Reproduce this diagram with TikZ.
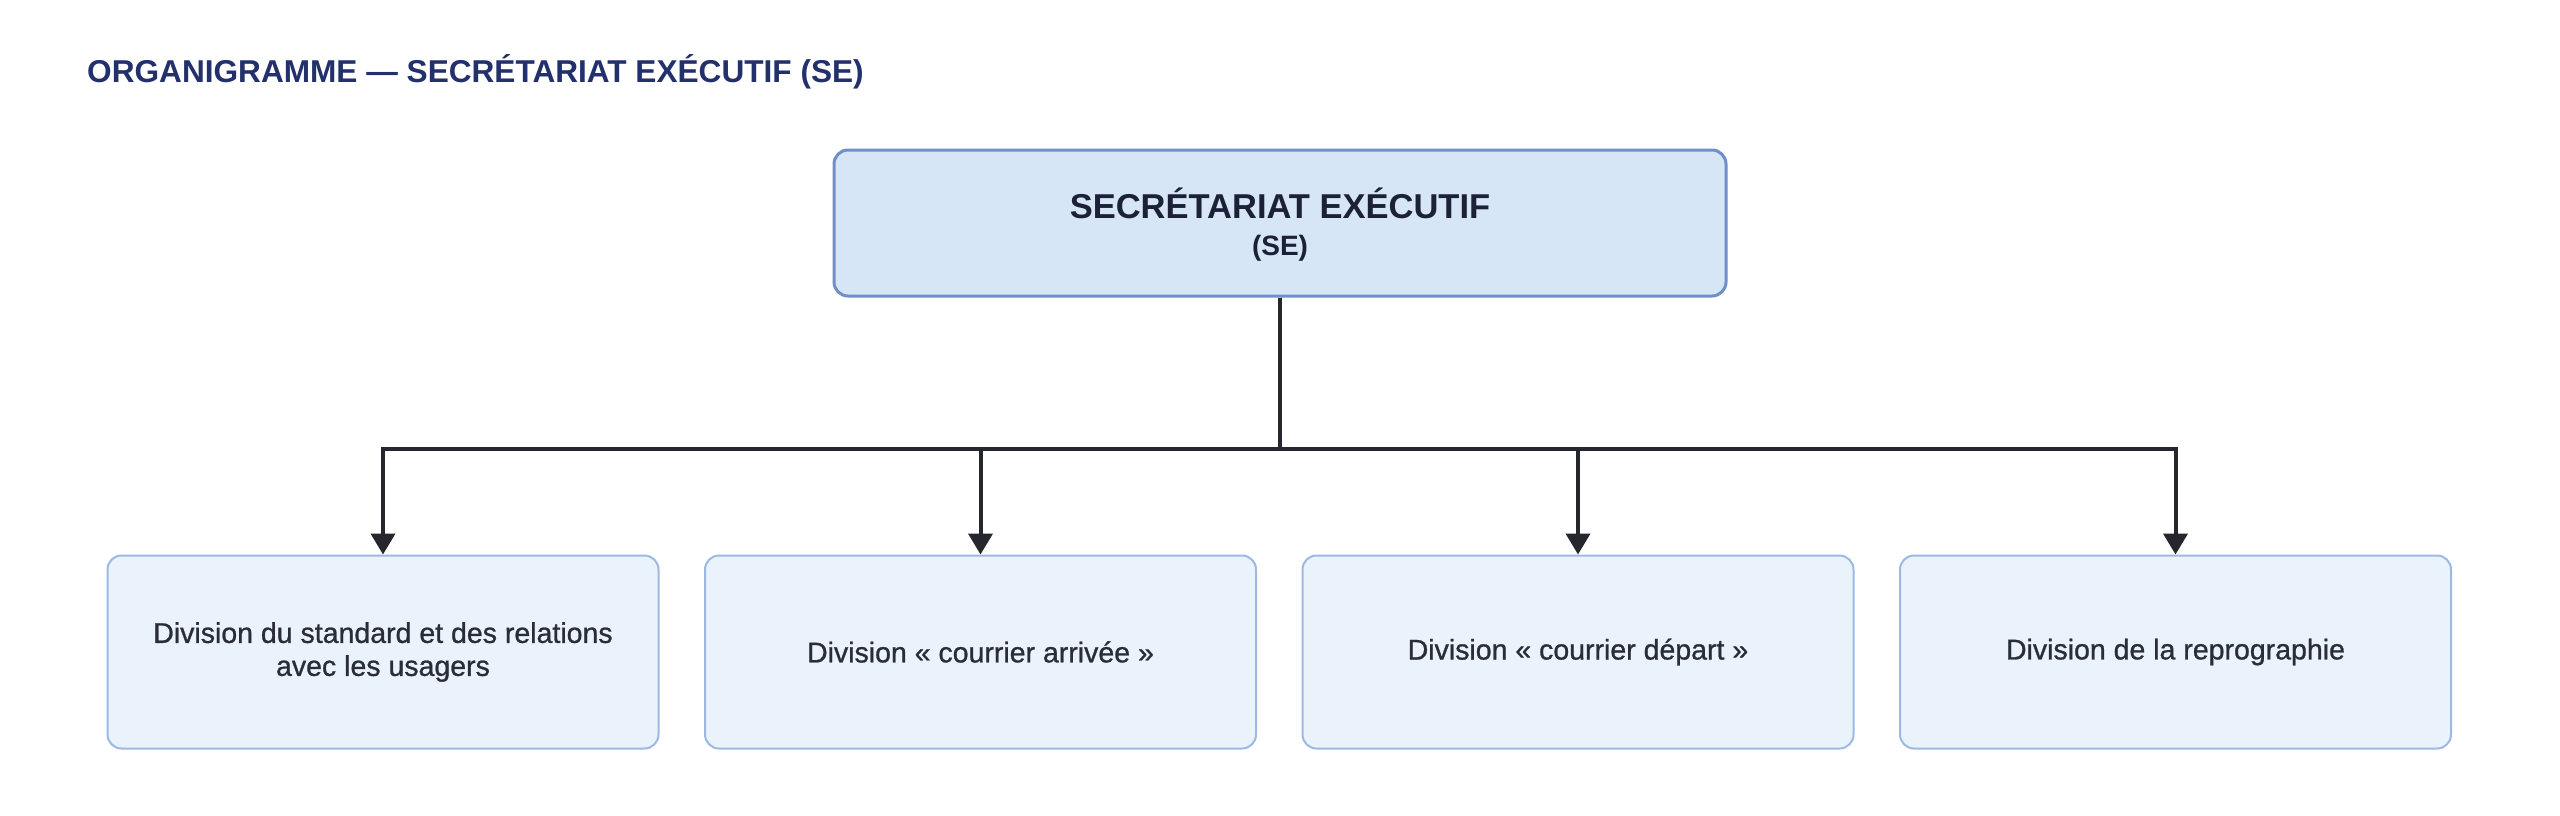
\documentclass[tikz,border=0pt]{standalone}
\usepackage{fontspec}
\setmainfont{Liberation Sans}
\newfontfamily\medfont[FakeBold=0.9]{Liberation Sans}
\usetikzlibrary{arrows.meta}
\definecolor{navy}{HTML}{22306B}
\definecolor{topfill}{HTML}{D6E6F6}
\definecolor{topdraw}{HTML}{6F8FC9}
\definecolor{subfill}{HTML}{EAF3FC}
\definecolor{subdraw}{HTML}{9DB9E2}
\definecolor{ink}{HTML}{1C2038}
\definecolor{subink}{HTML}{2A2D36}
\definecolor{wire}{HTML}{26262E}
\tikzset{
  topbox/.style={draw=topdraw, fill=topfill, line width=3pt, rounded corners=14pt,
    minimum width=892pt, minimum height=146pt, text=ink, align=center, inner sep=0pt},
  subbox/.style={draw=subdraw, fill=subfill, line width=2pt, rounded corners=14pt,
    minimum width=551pt, minimum height=193pt, text=subink, align=center, inner sep=0pt,
    font=\medfont\fontsize{28.5}{33}\selectfont},
  wireline/.style={draw=wire, line width=4pt, -{Triangle[length=21pt,width=24pt]}},
}
\begin{document}
\begin{tikzpicture}[x=1pt,y=-1pt]
\useasboundingbox[fill=white] (0,0) rectangle (2560,815);
\node[anchor=west, text=navy, font=\bfseries\fontsize{31.6}{36}\selectfont, inner sep=0pt] (title) at (87,72) {ORGANIGRAMME — SECRÉTARIAT EXÉCUTIF (SE)};
\node[topbox] (se) at (1280,223) {};
\node[text=ink, font=\bfseries\fontsize{34.5}{40}\selectfont, inner sep=0pt] (setitle) at (1280,203) {SECRÉTARIAT EXÉCUTIF};
\node[text=ink, font=\bfseries\fontsize{28}{32}\selectfont, inner sep=0pt] (seabbr) at (1280,248) {(SE)};
\node[subbox] (d1) at (383,652) {Division du standard et des relations\\avec les usagers};
\node[subbox] (d2) at (980.5,652) {Division « courrier arrivée »};
\node[subbox] (d3) at (1578,652) {Division « courrier départ »};
\node[subbox] (d4) at (2175.5,652) {Division de la reprographie};
\coordinate (bus) at (1280,449);
\foreach \d in {d1,d2,d3,d4}{
  \draw[wireline] (se.south) -- (bus) -| (\d.north);
}
\end{tikzpicture}
\end{document}
